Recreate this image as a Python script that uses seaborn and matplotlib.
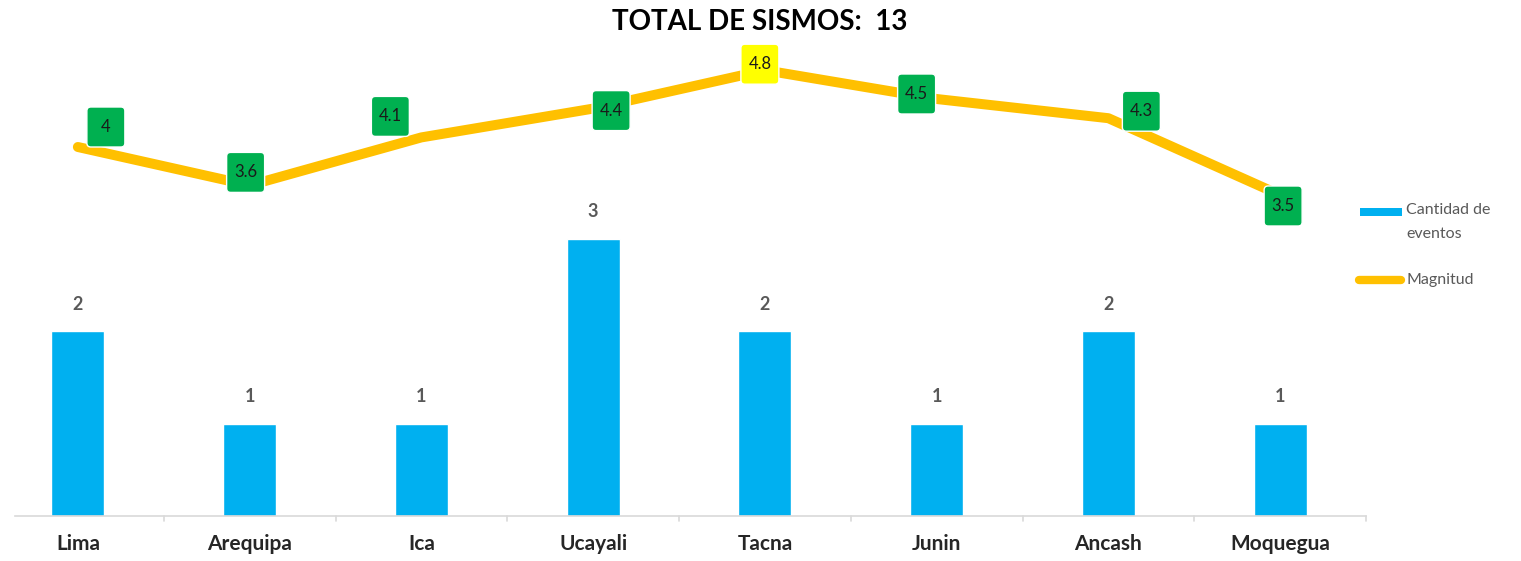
import numpy as np
import pandas as pd
import matplotlib
matplotlib.use("Agg")
import matplotlib.pyplot as plt
import matplotlib.transforms as mtransforms
from matplotlib.lines import Line2D
from matplotlib.patches import FancyBboxPatch, Rectangle
import seaborn as sns

# Data
regiones = ["Lima", "Arequipa", "Ica", "Ucayali", "Tacna", "Junin", "Ancash", "Moquegua"]
cantidad = [2, 1, 1, 3, 2, 1, 2, 1]
magnitud = [4.0, 3.6, 4.1, 4.4, 4.8, 4.5, 4.3, 3.5]
titulo = "TOTAL DE SISMOS:  13"
leyenda = ["Cantidad de\neventos", "Magnitud"]

# Label offsets (pixels, +y up) for the magnitude boxes
lbl_dx = [28, -4, -31, 18, -5, -20, 33, 3]
lbl_dy = [20, 13, 21, -2, 6, 5, 7, -11]

sns.set_theme(style="white")
plt.rcParams["font.family"] = ["Lato", "DejaVu Sans"]

W, H = 1521, 561
fig = plt.figure(figsize=(W / 100, H / 100), dpi=100)

# axes placed in pixel terms
x0, x1 = -8, 1366
ytop, ybot = 40, 516
ax = fig.add_axes([x0 / W, (H - ybot) / H, (x1 - x0) / W, (ybot - ytop) / H])

df = pd.DataFrame({"region": regiones, "cantidad": cantidad, "magnitud": magnitud})

BLUE = "#00B0F0"
GOLD = "#FFC000"
sns.barplot(data=df, x="region", y="cantidad", color=BLUE, width=0.31,
            saturation=1, ax=ax, zorder=2)
ax.bar_label(ax.containers[0], labels=[str(v) for v in cantidad], padding=13,
             fontsize=13, fontweight="bold", color="#595959")
n = len(regiones)
ax.set_xlim(-0.5, n - 0.5)
ax.set_ylim(0, (ybot - ytop) / 92.5)
ax.set_yticks([])
ax.set_xlabel("")
ax.set_ylabel("")
for s in ["top", "right", "left"]:
    ax.spines[s].set_visible(False)
ax.spines["bottom"].set_color("#D9D9D9")
ax.spines["bottom"].set_linewidth(1.2)
ax.spines["bottom"].set_bounds(-0.5 + 23 / 171.75, n - 0.5)
ax.tick_params(axis="x", length=0, pad=13, labelsize=15, labelcolor="#262626")
for t in ax.get_xticklabels():
    t.set_fontweight("bold")
# category separators
for b in np.arange(0.5, n, 1):
    ax.plot([b, b], [0, -0.055], color="#D9D9D9", lw=1.2, clip_on=False, zorder=1)

# Magnitude line on a secondary axis
ax2 = ax.twinx()
lo = 3.5 - 321 / 96
ax2.set_ylim(lo, lo + (ybot - ytop) / 96)
sns.lineplot(x=np.arange(n), y=magnitud, ax=ax2, color=GOLD,
             lw=7.2, sort=False, solid_capstyle="round", solid_joinstyle="round")
ax2.set_yticks([])
for s in ax2.spines.values():
    s.set_visible(False)
ax2.set_xlim(-0.5, n - 0.5)

# fixed-size value boxes, sized in pixels
BW, BH = 38, 40
vmax = max(magnitud)
for i, (m, dx, dy) in enumerate(zip(magnitud, lbl_dx, lbl_dy)):
    face = "#FFFF00" if m == vmax else "#00B050"
    tr = mtransforms.Affine2D().translate(dx, dy) + \
        mtransforms.ScaledTranslation(i, m, ax2.transData)
    box = FancyBboxPatch((-BW / 2, -BH / 2), BW, BH,
                         boxstyle="round,pad=0,rounding_size=4",
                         fc=face, ec="white", lw=1.0, transform=tr, zorder=5)
    ax2.add_patch(box)
    ax2.annotate(f"{m:g}", (i, m), xytext=(dx, dy), textcoords="offset pixels",
                 ha="center", va="center", fontsize=12, color="#1a1a1a", zorder=6)

fig.text(760 / W, 1 - 22 / H, titulo, ha="center", va="center",
         fontsize=20, fontweight="bold", color="black")

# legend drawn in figure pixels
def fx(p):
    return p / W

def fy(p):
    return 1 - p / H

fig.add_artist(Rectangle((fx(1360), fy(216)), 42 / W, 8 / H, fc=BLUE, ec="none"))
fig.add_artist(Line2D([fx(1359), fx(1401)], [fy(280), fy(280)], color=GOLD, lw=6,
                      solid_capstyle="round"))
fig.text(fx(1406), fy(203), leyenda[0], ha="left", va="top", fontsize=11.5,
         color="#595959", linespacing=1.95)
fig.text(fx(1406), fy(280), leyenda[1], ha="left", va="center", fontsize=11.5,
         color="#595959")

fig.savefig("out.png", dpi=100)
